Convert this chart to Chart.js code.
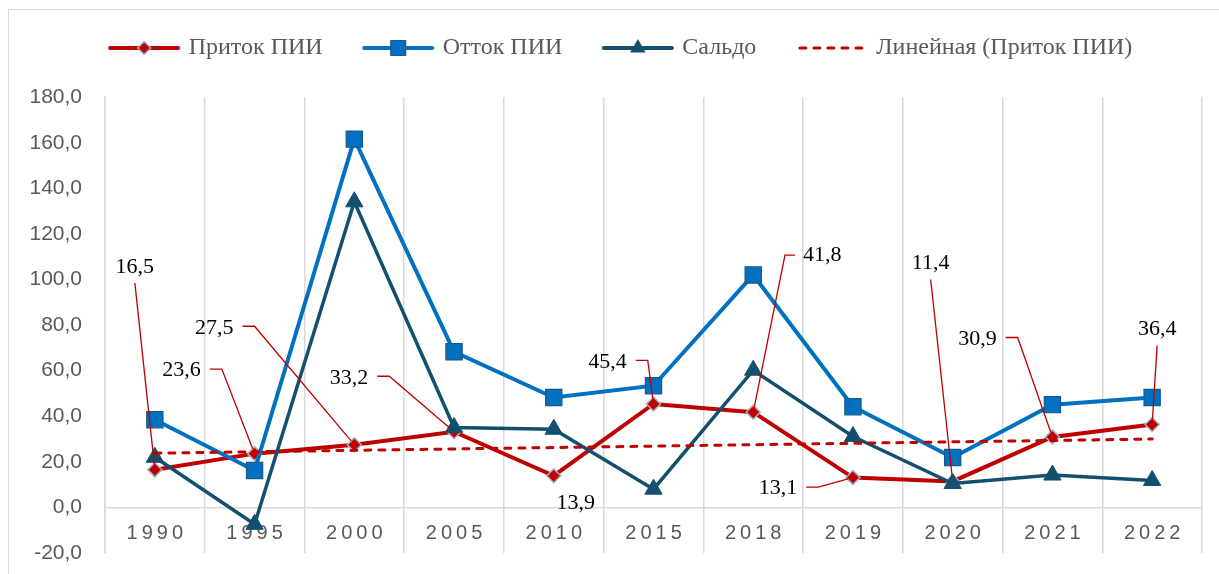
<!DOCTYPE html>
<html><head><meta charset="utf-8">
<script src="https://cdn.jsdelivr.net/npm/chart.js@4.4.0/dist/chart.umd.min.js"></script>
<style>html,body{margin:0;padding:0;background:#fff;}canvas{display:block;}</style>
</head><body>
<canvas id="c" width="1219" height="574"></canvas>
<script>
// ---- data ----
const categories = ['1990','1995','2000','2005','2010','2015','2018','2019','2020','2021','2022'];
const inflow  = [16.5, 23.6, 27.5, 33.2, 13.9, 45.4, 41.8, 13.1, 11.4, 30.9, 36.4];
const outflow = [38.5, 16.2, 161.6, 68.3, 48.2, 53.4, 102.0, 44.2, 21.9, 45.1, 48.2];
const saldo   = [22.0, -7.4, 134.1, 35.1, 34.3, 8.0, 60.2, 31.1, 10.5, 14.2, 11.8];
const trend   = [23.8, null, null, null, null, null, null, null, null, null, 30.0];
const seriesNames = ['Приток ПИИ', 'Отток ПИИ', 'Сальдо', 'Линейная (Приток ПИИ)'];
const yMin = -20, yMax = 180, yStep = 20;

// ---- styles ----
const RED = '#C00000', BLUE = '#0070C0', TEAL = '#13506F', GRID = '#d9d9d9', TXT = '#595959';
const fmt = v => v.toFixed(1).replace('.', ',');

// label placement (pixel offsets from the marker) and leader style
const labelPlacement = [
  {dx: -20, dy: -203, leader: 'below'},
  {dx: -73, dy: -83,  leader: 'right'},
  {dx: -140, dy: -117, leader: 'right'},
  {dx: -105, dy: -54, leader: 'right'},
  {dx: 22,  dy: 27,   leader: null},
  {dx: -46, dy: -42,  leader: 'right'},
  {dx: 69,  dy: -157, leader: 'left'},
  {dx: -75, dy: 11,   leader: 'right'},
  {dx: -22, dy: -218, leader: 'below'},
  {dx: -75, dy: -98,  leader: 'right'},
  {dx: 5,   dy: -95,  leader: 'below'}
];

// ---- legend sample images ----
const LEG_BOX = 98;
function legendSample(kind) {
  const W = LEG_BOX + 11, H = 26;
  const c = document.createElement('canvas'); c.width = W; c.height = H;
  const g = c.getContext('2d');
  const y = H / 2, x0 = W - 72, x1 = W - 4, cx = (x0 + x1) / 2;
  g.lineCap = 'round';
  if (kind === 'trend') {
    g.strokeStyle = RED; g.lineWidth = 3; g.setLineDash([6, 8]);
    g.beginPath(); g.moveTo(x0 + 2, y); g.lineTo(x1, y); g.stroke();
    return c;
  }
  const col = kind === 'in' ? RED : kind === 'out' ? BLUE : TEAL;
  g.strokeStyle = col; g.lineWidth = 4;
  g.beginPath(); g.moveTo(x0, y); g.lineTo(x1, y); g.stroke();
  g.beginPath();
  if (kind === 'in') {
    const r = 6.5;
    g.moveTo(cx, y - r); g.lineTo(cx + r, y); g.lineTo(cx, y + r); g.lineTo(cx - r, y); g.closePath();
    g.fillStyle = RED; g.fill(); g.strokeStyle = '#9FB2C7'; g.lineWidth = 1.5; g.stroke();
  } else if (kind === 'out') {
    const s = 7.5;
    g.rect(cx - s, y - s, 2 * s, 2 * s);
    g.fillStyle = BLUE; g.fill(); g.strokeStyle = '#1B5A88'; g.lineWidth = 1.2; g.stroke();
  } else {
    const r = 9;
    g.moveTo(cx, y - r); g.lineTo(cx + r * 0.866, y + r / 2); g.lineTo(cx - r * 0.866, y + r / 2); g.closePath();
    g.fillStyle = TEAL; g.fill();
  }
  return c;
}
const legendImages = [legendSample('in'), legendSample('out'), legendSample('saldo'), legendSample('trend')];

// ---- plugins ----
const backgroundPlugin = {
  id: 'bg',
  beforeDraw(chart) {
    const ctx = chart.ctx;
    ctx.save();
    ctx.fillStyle = '#fff'; ctx.fillRect(0, 0, chart.width, chart.height);
    ctx.strokeStyle = GRID; ctx.lineWidth = 1;
    ctx.strokeRect(8.5, 9.5, 1400, 1000);
    ctx.restore();
  }
};

const dataLabelPlugin = {
  id: 'dataLabels',
  afterDatasetsDraw(chart) {
    const meta = chart.getDatasetMeta(0);
    const ctx = chart.ctx;
    ctx.save();
    ctx.font = '22px "Liberation Serif", "Times New Roman", serif';
    ctx.textAlign = 'center'; ctx.textBaseline = 'middle';
    meta.data.forEach((pt, i) => {
      const p = labelPlacement[i];
      const text = fmt(inflow[i]);
      const lx = pt.x + p.dx, ly = pt.y + p.dy;
      const w = ctx.measureText(text).width;
      let path = null;
      if (p.leader === 'right') {
        const sx = lx + w / 2 + 9, sy = ly - 1.5;
        path = [[sx, sy], [sx + 12, sy]];
      } else if (p.leader === 'left') {
        const sx = lx - w / 2 - 8, sy = ly;
        path = [[sx, sy], [sx - 10, sy]];
      } else if (p.leader === 'below') {
        path = [[lx, ly + 16]];
      }
      if (path) {
        const last = path[path.length - 1];
        const ddx = last[0] - pt.x, ddy = last[1] - pt.y, d = Math.hypot(ddx, ddy);
        ctx.beginPath();
        ctx.moveTo(path[0][0], path[0][1]);
        for (let k = 1; k < path.length; k++) ctx.lineTo(path[k][0], path[k][1]);
        ctx.lineTo(pt.x + ddx / d * 5, pt.y + ddy / d * 5);
        ctx.strokeStyle = RED; ctx.lineWidth = 1.3; ctx.stroke();
      }
      ctx.fillStyle = '#000';
      ctx.fillText(text, lx, ly);
    });
    ctx.restore();
  }
};

// ---- chart ----
new Chart(document.getElementById('c'), {
  type: 'line',
  data: {
    labels: categories,
    datasets: [
      { label: seriesNames[0], data: inflow, order: 4, borderColor: RED, borderWidth: 4,
        pointStyle: 'rectRot', pointRadius: 7, pointBackgroundColor: RED, pointBorderColor: '#9FB2C7', pointBorderWidth: 1.5,
        tension: 0, fill: false },
      { label: seriesNames[1], data: outflow, order: 3, borderColor: BLUE, borderWidth: 4,
        pointStyle: 'rect', pointRadius: 11.5, pointBackgroundColor: BLUE, pointBorderColor: '#1B5A88', pointBorderWidth: 1.2,
        tension: 0, fill: false },
      { label: seriesNames[2], data: saldo, order: 2, borderColor: TEAL, borderWidth: 3.5,
        pointStyle: 'triangle', pointRadius: 10, pointBackgroundColor: TEAL, pointBorderColor: TEAL, pointBorderWidth: 1,
        tension: 0, fill: false },
      { label: seriesNames[3], data: trend, order: 1, borderColor: RED, borderWidth: 3, borderDash: [6, 8],
        borderCapStyle: 'round', pointRadius: 0, spanGaps: true, tension: 0, fill: false }
    ]
  },
  options: {
    responsive: false,
    animation: false,
    devicePixelRatio: 1,
    events: [],
    layout: { padding: { top: 26, left: 9, right: 17, bottom: 21 } },
    scales: {
      x: {
        type: 'category',
        offset: true,
        grid: { offset: true, color: GRID, lineWidth: 1.5, drawTicks: false },
        border: { display: false },
        ticks: {
          color: TXT, padding: 8, mirror: true, maxRotation: 0, autoSkip: false,
          font: { family: '"Liberation Sans", Arial, sans-serif', size: 20 },
          callback: (v, i) => categories[i].split('').join('\u2009')
        },
        afterFit: s => { s.height = 0; }
      },
      y: {
        min: yMin, max: yMax,
        ticks: {
          stepSize: yStep, color: TXT, padding: 23,
          font: { family: '"Liberation Sans", Arial, sans-serif', size: 21 },
          callback: v => fmt(v)
        },
        grid: { drawTicks: false, lineWidth: 1.5, color: c => (c.tick && c.tick.value === 0) ? GRID : 'rgba(0,0,0,0)' },
        border: { display: true, color: GRID, width: 1.5 },
        afterFit: s => { s.width = 96; s.paddingTop = 0; s.paddingBottom = 0; }
      }
    },
    plugins: {
      tooltip: { enabled: false },
      title: { display: false },
      subtitle: { display: true, text: '', weight: 500, position: 'top', padding: { top: 0, bottom: 26 }, font: { size: 1 } },
      legend: {
        position: 'top',
        labels: {
          usePointStyle: true,
          pointStyleWidth: LEG_BOX,
          padding: 10,
          color: TXT,
          font: { family: '"Liberation Serif", "Times New Roman", serif', size: 24 },
          generateLabels: chart => chart.data.datasets.map((ds, i) => ({
            text: ds.label, datasetIndex: i, hidden: false, pointStyle: legendImages[i],
            fillStyle: 'rgba(0,0,0,0)', strokeStyle: 'rgba(0,0,0,0)', lineWidth: 0, fontColor: TXT
          }))
        }
      }
    }
  },
  plugins: [backgroundPlugin, dataLabelPlugin]
});
</script>
</body></html>
